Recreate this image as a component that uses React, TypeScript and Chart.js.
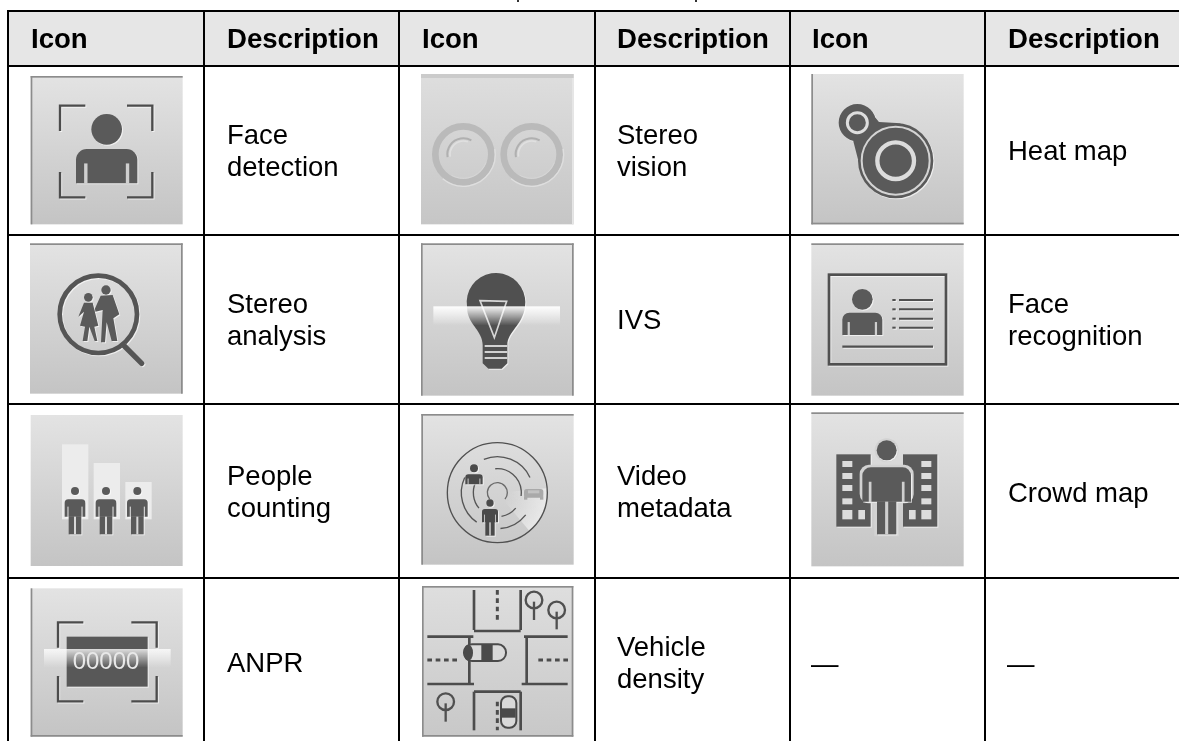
import React, { useEffect, useRef } from "react";
import { Chart, registerables } from "chart.js";

Chart.register(...registerables);

// Table structure (values on the axes are page pixels)
const columnEdges = [8, 204, 399, 595, 790, 985];
const rowEdges = [11, 66, 235, 404, 578];
const headerLabels = ["Icon", "Description", "Icon", "Description", "Icon", "Description"];
const headerX = [31, 227, 422, 617, 812, 1008];
const headerBaseline = 48;

// Description cells
const cellLines = [
  ["Face", "detection"], ["Stereo", "vision"], ["Heat map"],
  ["Stereo", "analysis"], ["IVS"], ["Face", "recognition"],
  ["People", "counting"], ["Video", "metadata"], ["Crowd map"],
  ["ANPR"], ["Vehicle", "density"], ["—"], ["—"],
];
const cellX = [227, 617, 1008, 227, 617, 1008, 227, 617, 1008, 227, 617, 811, 1007];
const cellBaseline = [144, 144, 160, 313, 329, 313, 485, 485, 502, 672, 656, 673, 673];
const lineStep = 32;

// Icon names with their frame (column origin, row origin)
const iconNames = ["face", "stereo", "heat", "analysis", "ivs", "recog", "people", "video", "crowd", "anpr", "vehicle"];
const iconFrameX = [0, 400, 779, 0, 400, 779, 0, 400, 779, 0, 400];
const iconFrameY = [0, 0, 0, 235, 235, 235, 235, 235, 235, 495, 495];

const DARK = "#5a5a5a";
const LINE = "#4c4c4c";
const FONT = '"Liberation Sans", Arial, sans-serif';

type C = CanvasRenderingContext2D;

function bg(c: C, x0: number, y0: number, x1: number, y1: number, edges: string, top = "#e3e3e3", bot = "#c4c4c4") {
  const g = c.createLinearGradient(0, y0, 0, y1);
  g.addColorStop(0, top);
  g.addColorStop(1, bot);
  c.fillStyle = g;
  c.fillRect(x0, y0, x1 - x0, y1 - y0);
  c.fillStyle = "#8c8c8c";
  if (edges.includes("L")) c.fillRect(x0, y0, 5, y1 - y0);
  if (edges.includes("R")) c.fillRect(x1 - 5, y0, 5, y1 - y0);
  if (edges.includes("T")) c.fillRect(x0, y0, x1 - x0, 5);
  if (edges.includes("B")) c.fillRect(x0, y1 - 5, x1 - x0, 5);
}
function emboss(c: C, on = true) {
  c.shadowColor = on ? "rgba(255,255,255,0.65)" : "transparent";
  c.shadowOffsetX = on ? 1 : 0;
  c.shadowOffsetY = on ? 1 : 0;
  c.shadowBlur = on ? 1 : 0;
}
function line(c: C, pts: number[], w: number, col = LINE, cap: CanvasLineCap = "butt") {
  c.strokeStyle = col;
  c.lineWidth = w;
  c.lineCap = cap;
  c.beginPath();
  for (let i = 0; i < pts.length; i += 2) {
    if (i === 0) c.moveTo(pts[0], pts[1]);
    else c.lineTo(pts[i], pts[i + 1]);
  }
  c.stroke();
}
function poly(c: C, pts: number[], col = DARK) {
  c.fillStyle = col;
  c.beginPath();
  c.moveTo(pts[0], pts[1]);
  for (let i = 2; i < pts.length; i += 2) c.lineTo(pts[i], pts[i + 1]);
  c.closePath();
  c.fill();
}
function disc(c: C, x: number, y: number, r: number, col = DARK) {
  c.fillStyle = col;
  c.beginPath();
  c.arc(x, y, r, 0, Math.PI * 2);
  c.fill();
}
function ring(c: C, x: number, y: number, r: number, w: number, col = LINE, a0 = 0, a1 = 360) {
  c.strokeStyle = col;
  c.lineWidth = w;
  c.lineCap = "butt";
  c.beginPath();
  c.arc(x, y, r, (a0 * Math.PI) / 180, (a1 * Math.PI) / 180);
  c.stroke();
}
function person(
  c: C, cx: number, headY: number, r: number, top: number, armBottom: number, hw: number,
  legBottom = 0, legHw = 0, slit = "#cfcfcf", col = DARK,
) {
  disc(c, cx, headY, r, col);
  c.fillStyle = col;
  c.beginPath();
  c.roundRect(cx - hw, top, hw * 2, armBottom - top, [hw * 0.35, hw * 0.35, 0, 0]);
  c.fill();
  if (legBottom) {
    c.fillRect(cx - legHw, armBottom - 1, legHw * 2, legBottom - armBottom + 1);
  }
  emboss(c, false);
  c.fillStyle = slit;
  const sw = hw * 0.11;
  const st = top + (armBottom - top) * 0.42;
  c.fillRect(cx - hw * 0.68 - sw / 2, st, sw, armBottom - st + 1);
  c.fillRect(cx + hw * 0.68 - sw / 2, st, sw, armBottom - st + 1);
  if (legBottom) c.fillRect(cx - legHw * 0.16, armBottom, legHw * 0.32, legBottom - armBottom);
  emboss(c, true);
}
function bracket(c: C, x0: number, y0: number, x1: number, y1: number, arm: number, w: number) {
  line(c, [x0, y0 + arm, x0, y0, x0 + arm, y0], w);
  line(c, [x1 - arm, y0, x1, y0, x1, y0 + arm], w);
  line(c, [x0, y1 - arm, x0, y1, x0 + arm, y1], w);
  line(c, [x1 - arm, y1, x1, y1, x1, y1 - arm], w);
}
function band(c: C, x0: number, y0: number, x1: number, y1: number, a = 0.95) {
  const g = c.createLinearGradient(0, y0, 0, y1);
  g.addColorStop(0, `rgba(255,255,255,${a})`);
  g.addColorStop(0.45, `rgba(255,255,255,${a * 0.55})`);
  g.addColorStop(1, "rgba(255,255,255,0)");
  c.fillStyle = g;
  c.fillRect(x0, y0, x1 - x0, y1 - y0);
}

const iconDrawers: Record<string, (c: C) => void> = {
  face(c) {
    bg(c, 92, 228, 548, 673, "LT");
    emboss(c);
    person(c, 320, 388, 46, 447, 550, 92);
    bracket(c, 180, 317, 457, 592, 76, 7);
  },
  stereo(c) {
    bg(c, 63, 222, 521, 673, "", "#dedede", "#c6c6c6");
    c.fillStyle = "#cbcbcb";
    c.fillRect(63, 222, 458, 12);
    c.fillStyle = "#e6e6e6";
    c.fillRect(516, 234, 5, 439);
    for (const cx of [190, 395]) {
      ring(c, cx, 463, 84, 20, "#bababa");
      ring(c, cx, 463, 96, 4, "#dedede", -10, 130);
      ring(c, cx, 463, 72, 3, "#d6d6d6", 20, 120);
      ring(c, cx, 463, 48, 6, "#b0b0b0", 170, 300);
      ring(c, cx, 463, 40, 5, "#e0e0e0", 170, 290);
    }
  },
  heat(c) {
    bg(c, 97, 222, 554, 673, "LB");
    emboss(c);
    c.fillStyle = DARK;
    c.beginPath();
    c.arc(235, 368, 56, 0, Math.PI * 2);
    c.moveTo(463, 482);
    c.arc(350, 482, 113, 0, Math.PI * 2);
    c.moveTo(275, 335);
    c.lineTo(300, 366);
    c.lineTo(365, 370);
    c.lineTo(240, 490);
    c.lineTo(222, 420);
    c.closePath();
    c.fill("nonzero");
    emboss(c, false);
    ring(c, 235, 368, 30, 9, "#dedede");
    ring(c, 350, 482, 102, 6, "#d4d4d4");
    ring(c, 350, 482, 55, 13, "#dcdcdc");
  },
  analysis(c) {
    bg(c, 90, 25, 548, 476, "TR");
    emboss(c);
    ring(c, 295, 238, 116, 14, "#555555");
    line(c, [370, 330, 425, 385], 16, "#555555", "round");
    // man
    disc(c, 318, 165, 14);
    poly(c, [302, 182, 338, 180, 358, 238, 340, 250, 352, 318, 335, 318, 320, 262, 315, 322, 303, 322, 308, 225, 280, 232]);
    // woman
    disc(c, 265, 187, 13);
    poly(c, [252, 203, 278, 203, 295, 272, 283, 275, 292, 318, 284, 318, 268, 275, 262, 318, 248, 318, 255, 275, 240, 272, 252, 230, 235, 245]);
  },
  ivs(c) {
    bg(c, 63, 25, 521, 482, "LRT");
    emboss(c);
    c.fillStyle = "#505050";
    c.beginPath();
    c.arc(288, 202, 88, Math.PI * 0.95, Math.PI * 0.05);
    c.bezierCurveTo(368, 270, 322, 290, 322, 330);
    c.lineTo(322, 385);
    c.lineTo(305, 401);
    c.lineTo(265, 401);
    c.lineTo(248, 385);
    c.lineTo(248, 330);
    c.bezierCurveTo(248, 290, 208, 270, 202, 229);
    c.closePath();
    c.fill();
    emboss(c, false);
    for (const y of [333, 351, 369]) line(c, [254, y, 322, y], 6, "#d2d2d2");
    c.strokeStyle = "#d6d6d6";
    c.lineWidth = 5;
    c.beginPath();
    c.moveTo(240, 197);
    c.lineTo(320, 199);
    c.lineTo(283, 308);
    c.closePath();
    c.stroke();
    band(c, 100, 214, 480, 272);
  },
  recog(c) {
    bg(c, 97, 25, 554, 482, "T");
    emboss(c);
    c.strokeStyle = "#505050";
    c.lineWidth = 8;
    c.strokeRect(150, 119, 351, 269);
    person(c, 250, 193, 31, 233, 300, 60);
    for (const y of [195, 223, 251, 278]) {
      line(c, [360, y, 462, y], 6, "#505050");
      line(c, [340, y, 350, y], 6, "#505050");
    }
    line(c, [190, 335, 462, 335], 7, "#505050");
  },
  people(c) {
    bg(c, 92, 540, 548, 993, "");
    c.fillStyle = "#ececec";
    c.fillRect(186, 628, 79, 225);
    c.fillRect(281, 684, 79, 169);
    c.fillRect(376, 741, 79, 112);
    emboss(c);
    for (const cx of [225, 318, 412]) person(c, cx, 768, 12, 793, 845, 31, 898, 19, "#d8d8d8");
  },
  video(c) {
    bg(c, 64, 537, 521, 989, "TL");
    const cx = 292;
    const cy = 773;
    // light sector behind the car
    const g = c.createRadialGradient(cx, cy, 30, cx, cy, 148);
    g.addColorStop(0, "rgba(238,238,238,0)");
    g.addColorStop(1, "rgba(238,238,238,0.8)");
    c.fillStyle = g;
    c.beginPath();
    c.moveTo(cx, cy);
    c.arc(cx, cy, 148, (-5 * Math.PI) / 180, (50 * Math.PI) / 180);
    c.closePath();
    c.fill();
    ring(c, cx, cy, 150, 4, "#505050");
    ring(c, cx, cy, 108, 4, "#555555", -112, -25);
    ring(c, cx, cy, 108, 4, "#555555", 38, 85);
    ring(c, cx, cy, 108, 4, "#555555", 125, 205);
    ring(c, cx, cy, 72, 4, "#555555", -95, 8);
    ring(c, cx, cy, 72, 4, "#555555", 40, 80);
    ring(c, cx, cy, 72, 4, "#555555", 140, 205);
    ring(c, cx, cy, 30, 4, "#6a6a6a", 140, 400);
    emboss(c);
    person(c, 222, 700, 12, 718, 748, 26, 0, 0, "#d0d0d0", "#4a4a4a");
    person(c, 270, 804, 11, 822, 862, 24, 902, 14, "#d0d0d0", "#4a4a4a");
    emboss(c, false);
    c.fillStyle = "#a9a9a9";
    c.beginPath();
    c.roundRect(372, 762, 58, 26, 8);
    c.fill();
    c.fillStyle = "#c2c2c2";
    c.fillRect(384, 766, 34, 9);
    c.fillStyle = "#a9a9a9";
    c.fillRect(372, 784, 10, 10);
    c.fillRect(420, 784, 10, 10);
  },
  crowd(c) {
    bg(c, 97, 532, 554, 994, "T");
    emboss(c);
    c.fillStyle = DARK;
    c.fillRect(172, 658, 103, 217);
    c.fillRect(372, 658, 103, 217);
    emboss(c, false);
    c.fillStyle = "#dcdcdc";
    for (const y of [678, 714, 750, 790]) {
      c.fillRect(190, y, 30, 18);
      c.fillRect(427, y, 30, 18);
    }
    c.fillRect(190, 825, 30, 28);
    c.fillRect(427, 825, 30, 28);
    c.fillRect(238, 825, 20, 28);
    c.fillRect(390, 825, 20, 28);
    // pale outline that separates the figure from the buildings
    const halo = "#d2d2d2";
    disc(c, 323, 646, 36, halo);
    c.fillStyle = halo;
    c.beginPath();
    c.roundRect(242, 689, 162, 116, 28);
    c.fill();
    c.fillRect(286, 800, 74, 104);
    emboss(c);
    person(c, 323, 646, 30, 697, 800, 73, 898, 29, "#cfcfcf");
  },
  anpr(c) {
    bg(c, 92, 280, 548, 725, "LB");
    emboss(c);
    bracket(c, 174, 382, 470, 619, 76, 7);
    c.fillStyle = "#585858";
    c.fillRect(200, 425, 243, 150);
    emboss(c, false);
    band(c, 132, 462, 512, 518, 0.8);
    c.fillStyle = "#e8e8e8";
    c.font = `72px ${FONT}`;
    c.textAlign = "center";
    c.textBaseline = "alphabetic";
    c.fillText("00000", 318, 523);
  },
  vehicle(c) {
    bg(c, 66, 273, 520, 725, "LRTB", "#dedede", "#c8c8c8");
    const w = 8;
    line(c, [222, 285, 222, 405], w);
    line(c, [362, 285, 362, 405], w);
    line(c, [222, 408, 362, 408], w);
    line(c, [82, 425, 220, 425], w);
    line(c, [372, 425, 503, 425], w);
    line(c, [208, 425, 208, 567], w);
    line(c, [380, 425, 380, 567], w);
    line(c, [82, 567, 222, 567], w);
    line(c, [365, 567, 503, 567], w);
    line(c, [222, 590, 362, 590], w);
    line(c, [222, 590, 222, 706], w);
    line(c, [362, 590, 362, 706], w);
    c.setLineDash([14, 11]);
    line(c, [292, 285, 292, 378], 9);
    line(c, [292, 620, 292, 706], 9);
    line(c, [82, 495, 172, 495], 9);
    line(c, [415, 495, 505, 495], 9);
    c.setLineDash([]);
    for (const [x, y, b] of [[402, 315, 375], [470, 345, 403], [137, 620, 680]]) {
      ring(c, x, y, 25, 7, "#505050");
      line(c, [x, y + 5, x, b], 7, "#505050");
    }
    // horizontal car
    c.fillStyle = "#d9d9d9";
    c.beginPath();
    c.roundRect(192, 448, 126, 50, 24);
    c.fill();
    c.strokeStyle = "#4a4a4a";
    c.lineWidth = 6;
    c.stroke();
    c.fillStyle = "#4a4a4a";
    c.fillRect(244, 450, 34, 46);
    c.beginPath();
    c.ellipse(205, 473, 14, 24, 0, 0, Math.PI * 2);
    c.fill();
    // vertical car
    c.fillStyle = "#d9d9d9";
    c.beginPath();
    c.roundRect(303, 604, 46, 94, 20);
    c.fill();
    c.stroke();
    c.fillStyle = "#4a4a4a";
    c.fillRect(305, 640, 42, 28);
  },
};

const tablePlugin = {
  id: "tablePlugin",
  beforeDraw(chart: any) {
    const { ctx, scales } = chart;
    const x = scales.x;
    const y = scales.y;
    ctx.save();
    ctx.fillStyle = "#ffffff";
    ctx.fillRect(0, 0, chart.width, chart.height);
    ctx.fillStyle = "#e6e6e6";
    const x0 = x.getPixelForValue(columnEdges[0]);
    const y0 = y.getPixelForValue(rowEdges[0]);
    ctx.fillRect(x0, y0, chart.width - x0, y.getPixelForValue(rowEdges[1]) - y0);
    ctx.restore();
  },
  afterDraw(chart: any) {
    const { ctx, scales } = chart;
    const x = scales.x;
    const y = scales.y;
    iconNames.forEach((name, i) => {
      ctx.save();
      ctx.translate(x.getPixelForValue(iconFrameX[i]), y.getPixelForValue(iconFrameY[i]));
      ctx.scale(1 / 3, 1 / 3);
      ctx.filter = "blur(0.45px)";
      iconDrawers[name](ctx);
      ctx.restore();
    });
    ctx.save();
    ctx.fillStyle = "#000000";
    ctx.textAlign = "left";
    ctx.textBaseline = "alphabetic";
    ctx.font = `bold 27.6px ${FONT}`;
    headerLabels.forEach((t, i) => {
      ctx.fillText(t, x.getPixelForValue(headerX[i]), y.getPixelForValue(headerBaseline));
    });
    ctx.font = `27.5px ${FONT}`;
    const pts = chart.getDatasetMeta(0).data;
    cellLines.forEach((lines, i) => {
      lines.forEach((t, k) => ctx.fillText(t, pts[i].x, pts[i].y + k * lineStep));
    });
    // cut-off descenders of the caption above the table
    ctx.fillStyle = "#333333";
    ctx.fillRect(517, 0, 2, 2);
    ctx.fillRect(695, 0, 2, 2);
    ctx.restore();
  },
};

export default function App() {
  const ref = useRef<HTMLCanvasElement>(null);
  useEffect(() => {
    const gridAxis = (min: number, max: number, edges: number[], reverse = false) => ({
      type: "linear" as const,
      min,
      max,
      reverse,
      display: true,
      afterBuildTicks: (s: any) => {
        s.ticks = edges.map((value) => ({ value }));
      },
      ticks: { display: false },
      border: { display: false },
      grid: { color: "#000000", lineWidth: 2, drawTicks: false },
    });
    const chart = new Chart(ref.current!, {
      type: "scatter",
      data: {
        datasets: [
          {
            data: cellX.map((v, i) => ({ x: v, y: cellBaseline[i] })),
            pointRadius: 0,
            pointHoverRadius: 0,
          },
        ],
      },
      options: {
        animation: false,
        responsive: false,
        devicePixelRatio: 1,
        layout: { padding: { left: 7, top: 10, right: 0, bottom: 0 } },
        plugins: { legend: { display: false }, tooltip: { enabled: false }, title: { display: false } },
        scales: {
          x: gridAxis(7, 1179, columnEdges),
          y: gridAxis(10, 741, rowEdges, true),
        },
      },
      plugins: [tablePlugin],
    } as any);
    return () => chart.destroy();
  }, []);
  return (
    <canvas
      ref={ref}
      width={1179}
      height={741}
      style={{ position: "fixed", left: 0, top: 0, display: "block", width: 1179, height: 741 }}
    />
  );
}
